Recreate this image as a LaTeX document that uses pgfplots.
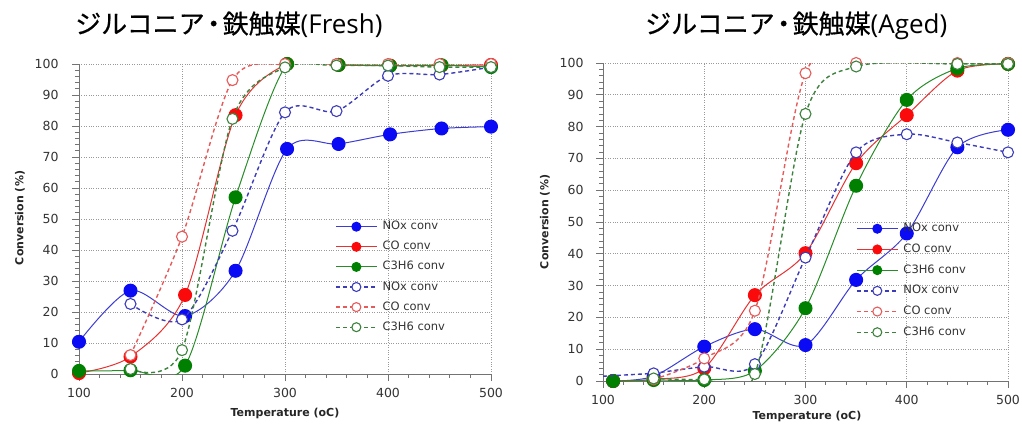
\documentclass[border=0pt]{standalone}
\usepackage{fontspec}
\setmainfont{DejaVu Sans}
\newfontfamily\cjk[FakeBold=0.5]{Noto Sans CJK JP}
\newfontfamily\osans{Open Sans}
\usepackage{pgfplots}
\pgfplotsset{compat=1.18}
\definecolor{fblue}{RGB}{10,10,245}
\definecolor{lblue}{RGB}{60,60,210}
\definecolor{fred}{RGB}{250,10,10}
\definecolor{lred}{RGB}{230,50,50}
\definecolor{fgreen}{RGB}{0,128,0}
\definecolor{lgreen}{RGB}{40,140,40}
\definecolor{dblue}{RGB}{60,60,185}
\definecolor{dred}{RGB}{230,90,90}
\definecolor{dgreen}{RGB}{60,130,60}
\pgfplotsset{
  convstyle/.style={
    scale only axis,
    xmin=100, xmax=500, ymin=0, ymax=100,
    xtick={100,200,300,400,500},
    ytick={0,10,...,100},
    minor x tick num=4, minor y tick num=4,
    xmajorgrids, ymajorgrids,
    grid style={dotted, black!40, line width=0.7pt},
    axis x line*=bottom, axis y line*=left,
    axis line style={black!55, line width=0.8pt},
    tick style={black!55, line width=0.7pt},
    major tick length=7pt, minor tick length=4pt,
    tick align=outside,
    clip mode=individual,
    /pgf/number format/assume math mode=true,
    ticklabel style={font=\fontsize{12.5}{14}\selectfont, text=black!80},
    xticklabel style={yshift=-4pt},
    yticklabel style={xshift=-10pt},
    legend cell align=left,
    legend image code/.code={
      \draw[mark repeat=2,mark phase=2,#1] plot coordinates {(0pt,0pt) (20.5pt,0pt) (41pt,0pt)};
    },
    every legend image post/.append style={mark size=4.5pt},
    legend style={draw=none, fill=none, anchor=north west,
      font=\fontsize{11.5}{13}\selectfont, text=black!80,
      nodes={inner sep=0pt, text height=8.5pt, text depth=2.5pt},
      row sep=9.1pt, column sep=5pt},
  },
  sNOx/.style={smooth, tension=0.5, color=lblue, line width=1pt, mark=*, mark size=6.5pt, mark options={solid, fill=fblue, draw=fblue}},
  sCO/.style={smooth, tension=0.5, color=lred, line width=1pt, mark=*, mark size=6.5pt, mark options={solid, fill=fred, draw=fred}},
  sHC/.style={smooth, tension=0.5, color=lgreen, line width=1pt, mark=*, mark size=6.5pt, mark options={solid, fill=fgreen, draw=fgreen}},
  dNOx/.style={smooth, tension=0.5, color=dblue, line width=1.4pt, dash pattern=on 4pt off 3pt, mark=*, mark size=5.5pt, mark options={solid, fill=white, draw=dblue, line width=1.1pt}},
  dCO/.style={smooth, tension=0.5, color=dred, line width=1.4pt, dash pattern=on 4pt off 3pt, mark=*, mark size=5.5pt, mark options={solid, fill=white, draw=dred, line width=1.1pt}},
  dHC/.style={smooth, tension=0.5, color=dgreen, line width=1.4pt, dash pattern=on 4pt off 3pt, mark=*, mark size=5.5pt, mark options={solid, fill=white, draw=dgreen, line width=1.1pt}},
}
\begin{document}
\begin{tikzpicture}[x=1pt,y=1pt]
\path[use as bounding box] (0,0) rectangle (1022,424);
% ---------------- Fresh ----------------
\begin{axis}[convstyle, at={(79pt,50pt)}, anchor=south west, width=412pt, height=310pt,
  legend style={at={(rel axis cs:0.614,0.500)}}]
\addplot[sNOx] coordinates {(100,10.4)(150,26.9)(203,18.7)(252,33.3)(302,72.6)(352,74.2)(402,77.3)(452,79.2)(500,79.8)};
\addlegendentry{NOx conv}
\addplot[sCO] coordinates {(100,0.3)(150,5.6)(203,25.5)(252,83.5)(302,100)(352,99.7)(402,99.5)(452,99.5)(500,99.7)};
\addlegendentry{CO conv}
\addplot[sHC] coordinates {(100,1)(150,1.2)(203,2.7)(252,57)(302,100)(352,99.7)(402,99.4)(452,99.6)(500,99)};
\addlegendentry{C3H6 conv}
\addplot[dNOx] coordinates {(150,22.6)(200,17.6)(249,46.2)(300,84.4)(350,84.8)(400,96.2)(450,96.6)(500,99)};
\addlegendentry{NOx conv}
\addplot[dCO] coordinates {(150,6.1)(200,44.3)(249,94.8)(300,100)(350,100)(400,100)(450,100)(500,100)};
\addlegendentry{CO conv}
\addplot[dHC] coordinates {(150,1.6)(200,7.7)(249,82.3)(300,98.9)(350,99.5)(400,99.5)(450,99)(500,99)};
\addlegendentry{C3H6 conv}
\end{axis}
% ---------------- Aged ----------------
\begin{axis}[convstyle, at={(603pt,43pt)}, anchor=south west, width=405pt, height=318pt,
  yticklabel style={xshift=1pt},
  legend style={at={(rel axis cs:0.617,0.503)}, row sep=9.7pt}]
\addplot[sNOx] coordinates {(110,0)(150,1.5)(200,10.8)(250,16.3)(300,11.3)(350,31.8)(400,46.4)(450,73.5)(500,79)};
\addlegendentry{NOx conv}
\addplot[sCO] coordinates {(110,0)(150,0.5)(200,4)(250,27)(300,40.2)(350,68.5)(400,83.6)(450,97.6)(500,99.7)};
\addlegendentry{CO conv}
\addplot[sHC] coordinates {(110,0)(150,0.3)(200,0.3)(250,3.2)(300,22.9)(350,61.4)(400,88.4)(450,98.3)(500,99.7)};
\addlegendentry{C3H6 conv}
\addplot[dNOx, mark=none, forget plot] coordinates {(100,1.5)(150,2.4)};
\addplot[dNOx] coordinates {(150,2.4)(200,4.5)(250,5.3)(300,38.8)(350,71.9)(400,77.6)(450,75)(500,71.9)};
\addlegendentry{NOx conv}
\addplot[dCO] coordinates {(150,0.5)(200,7.1)(250,22.1)(300,96.8)(350,100)(450,100)(500,100)};
\addlegendentry{CO conv}
\addplot[dHC] coordinates {(150,0.8)(200,0.5)(250,2.2)(300,84)(350,98.9)(450,99.7)(500,99.7)};
\addlegendentry{C3H6 conv}
\end{axis}
% ---------------- titles and labels ----------------
\node[anchor=base west, inner sep=0pt, font=\fontsize{26}{30}\selectfont] at (75,390.6) {{\cjk ジルコニア\kern-4pt・\kern-4pt鉄触媒}{\osans (Fresh)}};
\node[anchor=base west, inner sep=0pt, font=\fontsize{26}{30}\selectfont] at (645,390.6) {{\cjk ジルコニア\kern-4pt・\kern-4pt鉄触媒}{\osans (Aged)}};
\node[rotate=90, font=\bfseries\fontsize{11}{13}\selectfont, text=black!85] at (20,206) {Conversion (\%)};
\node[rotate=90, font=\bfseries\fontsize{11}{13}\selectfont, text=black!85] at (545,202) {Conversion (\%)};
\node[font=\bfseries\fontsize{11}{13}\selectfont, text=black!85] at (285,11) {Temperature (oC)};
\node[font=\bfseries\fontsize{11}{13}\selectfont, text=black!85] at (807,7.5) {Temperature (oC)};
\end{tikzpicture}
\end{document}
